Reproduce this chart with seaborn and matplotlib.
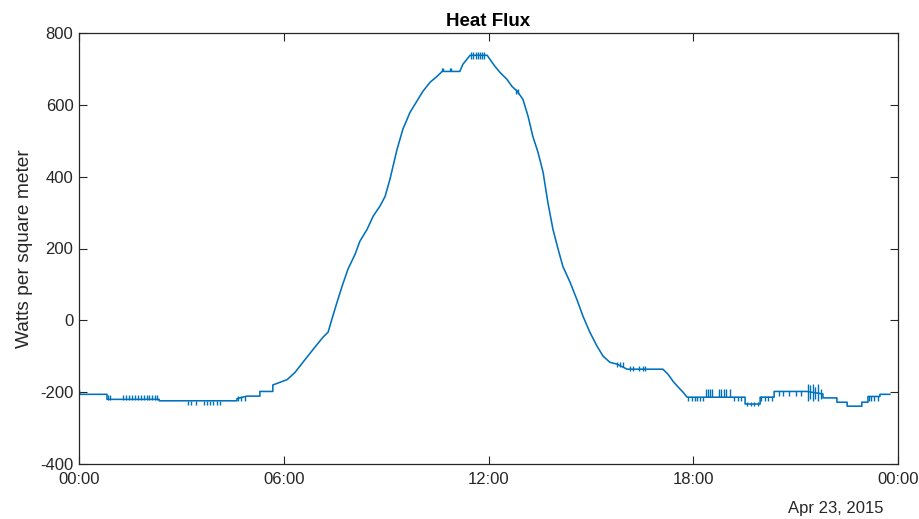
import numpy as np
import pandas as pd
import matplotlib
matplotlib.use("Agg")
import matplotlib.pyplot as plt
import matplotlib.dates as mdates
import seaborn as sns

# ---- data (hours since midnight, W/m^2) ----
hours = [0.00, 0.03, 0.82, 0.82, 2.35, 2.35, 4.63, 4.63, 4.92, 5.30, 5.30, 5.68,
         5.68, 6.10, 6.33, 6.56, 6.86, 7.15, 7.30, 7.41, 7.56, 7.71, 7.88, 8.09,
         8.23, 8.44, 8.62, 8.82, 8.97, 9.11, 9.32, 9.49, 9.70, 9.90, 10.08, 10.29,
         10.49, 10.64, 11.16, 11.25, 11.37, 11.46, 11.96, 12.04, 12.19, 12.34,
         12.54, 12.69, 12.84, 13.01, 13.16, 13.30, 13.45, 13.60, 13.74, 13.89,
         14.04, 14.18, 14.39, 14.59, 14.77, 14.97, 15.18, 15.36, 15.56, 15.77,
         16.06, 17.11, 17.26, 17.41, 17.55, 17.70, 17.82, 19.52, 19.52,
         19.96, 19.96, 20.37, 20.37, 21.33, 21.80, 21.80, 22.21, 22.21, 22.51,
         22.51, 22.94, 22.94, 23.12, 23.12, 23.47, 23.47, 23.77]
flux = [-195, -206, -206, -220, -220, -224, -224, -218, -211, -211, -198, -198,
        -180, -165, -145, -117, -81, -47, -33, 3, 50, 95, 142, 184,
        220, 253, 290, 318, 345, 392, 476, 532, 579, 610, 638, 663,
        679, 693, 693, 713, 727, 738, 738, 727, 707, 690,
        671, 651, 638, 615, 568, 512, 468, 412, 328, 253,
        198, 150, 106, 58, 11, -33, -72, -100, -117, -122,
        -136, -136, -150, -170, -185, -200, -214, -214, -233,
        -233, -214, -214, -198, -198, -205, -216, -216, -228, -228,
        -239, -239, -228, -228, -212, -212, -206, -206]

# quantisation flicker: (time, low, high)
flick_hours = [0.00, 0.85, 0.92, 1.30, 1.38, 1.46, 1.55, 1.63, 1.72,
               1.82, 1.90, 1.98, 2.06, 2.14, 2.22, 2.30,
               3.18, 3.27, 3.42, 3.65, 3.74, 3.84, 3.94, 4.04, 4.14,
               4.66, 4.75, 4.85,
               10.64, 10.68, 10.87, 10.91,
               11.50, 11.56, 11.62, 11.68, 11.76, 11.82, 11.88,
               12.82, 12.87,
               15.78, 15.86, 15.93,
               16.15, 16.22, 16.42, 16.52, 16.60,
               17.86, 17.95, 18.05, 18.12, 18.20, 18.28,
               18.36, 18.42, 18.50, 18.56, 18.75, 18.82, 18.90, 18.97, 19.07,
               19.20, 19.30, 19.40,
               19.58, 19.68, 19.78, 19.90,
               20.00, 20.10, 20.20, 20.30,
               20.50, 20.62, 20.80, 21.00, 21.15,
               21.36, 21.42, 21.50, 21.58, 21.66, 21.74,
               23.15, 23.22, 23.30, 23.40]
flick_lo = [-206, -222, -222, -222, -222, -222, -222, -222, -222,
            -222, -222, -222, -222, -222, -222, -222,
            -237, -237, -237, -237, -237, -237, -237, -237, -237,
            -224, -224, -224,
            693, 693, 693, 693,
            727, 727, 727, 727, 727, 727, 727,
            630, 630,
            -130, -130, -130,
            -140, -140, -140, -140, -140,
            -225, -225, -225, -225, -225, -225,
            -214, -214, -214, -214, -214, -214, -214, -214, -214,
            -225, -225, -225,
            -238, -238, -238, -238,
            -225, -225, -225, -225,
            -212, -212, -212, -212, -212,
            -225, -220, -225, -220, -225, -220,
            -225, -225, -225, -225]
flick_hi = [-192, -208, -208, -208, -208, -208, -208, -208, -208,
            -208, -208, -208, -208, -208, -208, -208,
            -224, -224, -224, -224, -224, -224, -224, -224, -224,
            -210, -210, -210,
            703, 703, 703, 703,
            746, 746, 746, 746, 746, 746, 746,
            645, 645,
            -117, -117, -117,
            -127, -127, -127, -127, -127,
            -214, -214, -214, -214, -214, -214,
            -192, -192, -192, -192, -192, -192, -192, -192, -192,
            -214, -214, -214,
            -228, -228, -228, -228,
            -212, -212, -212, -212,
            -198, -198, -198, -198, -198,
            -176, -180, -176, -185, -176, -190,
            -212, -212, -212, -212]

y_ticks = [-400, -200, 0, 200, 400, 600, 800]
x_tick_hours = [0, 6, 12, 18, 24]

# ---- build ----
day = pd.Timestamp("2015-04-23")
df = pd.DataFrame({"time": day + pd.to_timedelta(hours, unit="h"), "flux": flux})
ft = day + pd.to_timedelta(flick_hours, unit="h")

sns.set_style("ticks")
plt.rcParams["font.family"] = ["Liberation Sans", "DejaVu Sans"]
plt.rcParams["axes.unicode_minus"] = False

fig = plt.figure(figsize=(9.2, 5.19), dpi=100)
ax = fig.add_axes([79 / 920, 1 - 464 / 519, (898 - 79) / 920, (464 - 33) / 519])

blue = "#0072BD"
sns.lineplot(data=df, x="time", y="flux", ax=ax, color=blue, lw=1.15,
             estimator=None, sort=False)
ax.vlines(ft, flick_lo, flick_hi, color=blue, lw=1.0)

ax.set_xlim(day, day + pd.Timedelta(hours=24))
ax.set_ylim(-400, 800)
ax.set_yticks(y_ticks)
ax.set_xticks([day + pd.Timedelta(hours=h) for h in x_tick_hours])
ax.xaxis.set_major_formatter(mdates.DateFormatter("%H:%M"))

dark = "#262626"
for s in ax.spines.values():
    s.set_visible(True)
    s.set_color(dark)
    s.set_linewidth(0.9)
ax.tick_params(direction="in", length=5.5, width=0.8, color=dark,
               labelcolor=dark, labelsize=12, top=True, right=True)
ax.tick_params(axis="x", pad=6)
ax.tick_params(axis="y", pad=4)

ax.set_xlabel("")
ax.set_ylabel("Watts per square meter", fontsize=13.8, color=dark, labelpad=5)
ax.set_title("Heat Flux", fontsize=13.5, fontweight="bold", color="black", pad=5)
fig.text(884 / 920, 1 - 509 / 519, "Apr 23, 2015", ha="right", va="center",
         fontsize=12, color=dark)

fig.savefig("out.png", dpi=100)
